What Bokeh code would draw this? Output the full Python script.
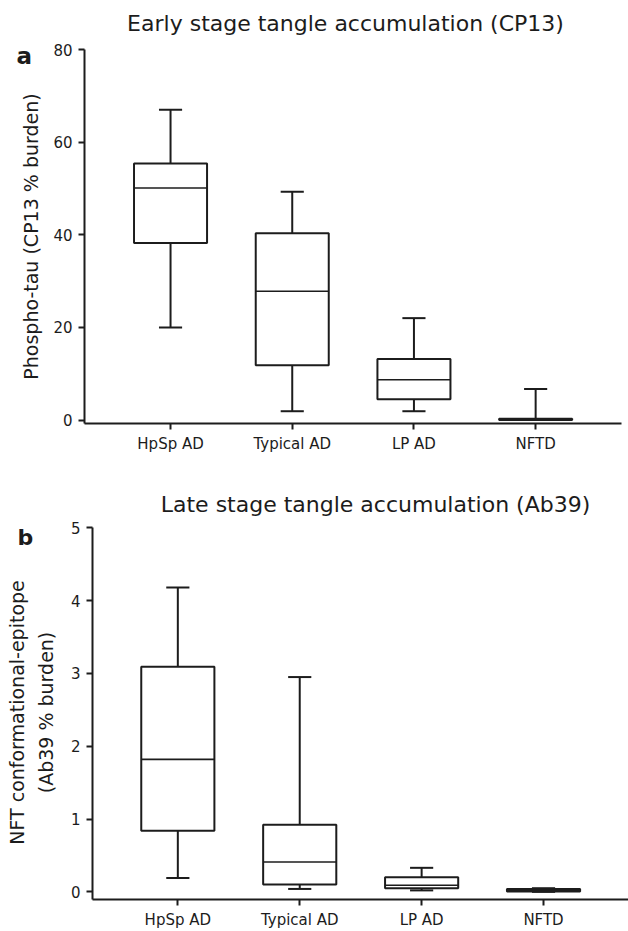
import math
from bokeh.plotting import figure
from bokeh.layouts import column
from bokeh.models import FixedTicker, Label, LinearAxis, Range1d
from bokeh.embed import file_html
from bokeh.resources import INLINE

# ---------------- data ----------------
categories = ["HpSp AD", "Typical AD", "LP AD", "NFTD"]
positions = [1, 2, 3, 4]

cp13_low = [20.0, 1.9, 1.9, 0.0]
cp13_q1 = [38.2, 11.8, 4.5, 0.0]
cp13_median = [50.1, 27.8, 8.7, 0.1]
cp13_q3 = [55.4, 40.3, 13.2, 0.3]
cp13_high = [67.0, 49.3, 22.0, 6.7]
cp13_ticks = [0, 20, 40, 60, 80]

ab39_low = [0.19, 0.04, 0.02, 0.0]
ab39_q1 = [0.84, 0.10, 0.05, 0.005]
ab39_median = [1.82, 0.41, 0.09, 0.02]
ab39_q3 = [3.09, 0.92, 0.20, 0.04]
ab39_high = [4.18, 2.95, 0.33, 0.05]
ab39_ticks = [0, 1, 2, 3, 4, 5]

title_a = "Early stage tangle accumulation (CP13)"
title_b = "Late stage tangle accumulation (Ab39)"
ylabel_a = "Phospho-tau (CP13 % burden)"
ylabel_b1 = "NFT conformational-epitope"
ylabel_b2 = "(Ab39 % burden)"

INK = "#1c1c1c"
FONT = "DejaVu Sans"
BOX_W = 0.6
CAP_W = 0.19
PAGE_LEFT, PAGE_RIGHT = 0, 628


class Panel:
    """Maps picture pixels of the plotting area to data coordinates."""

    def __init__(self, fig_top, fig_bottom, frame, xr, yr):
        self.fig_top, self.fig_bottom = fig_top, fig_bottom
        self.fl, self.fr, self.ft, self.fb = frame
        self.xr, self.yr = xr, yr

    def x(self, px):
        return self.xr[0] + (px - self.fl) / (self.fr - self.fl) * (self.xr[1] - self.xr[0])

    def y(self, py):
        return self.yr[1] - (py - self.ft) / (self.fb - self.ft) * (self.yr[1] - self.yr[0])


def make_panel(pn, low, q1, med, q3, high, ticks):
    width = PAGE_RIGHT - PAGE_LEFT
    height = pn.fig_bottom - pn.fig_top
    p = figure(width=width, height=height,
               x_range=Range1d(pn.x(PAGE_LEFT), pn.x(PAGE_RIGHT)),
               y_range=Range1d(pn.y(pn.fig_bottom), pn.y(pn.fig_top)),
               x_axis_location=None, y_axis_location=None, title=None,
               output_backend="svg", toolbar_location=None,
               min_border=0, min_border_left=0, min_border_right=0,
               min_border_top=0, min_border_bottom=0)
    p.outline_line_color = None
    p.grid.visible = False
    p.background_fill_color = "white"
    p.border_fill_color = "white"

    left = [x - BOX_W / 2 for x in positions]
    right = [x + BOX_W / 2 for x in positions]
    cl = [x - CAP_W / 2 for x in positions]
    cr = [x + CAP_W / 2 for x in positions]

    p.segment(x0=positions, y0=q3, x1=positions, y1=high, line_color=INK, line_width=2)
    p.segment(x0=positions, y0=q1, x1=positions, y1=low, line_color=INK, line_width=2)
    p.segment(x0=cl, y0=high, x1=cr, y1=high, line_color=INK, line_width=2)
    p.segment(x0=cl, y0=low, x1=cr, y1=low, line_color=INK, line_width=2)
    p.quad(left=left, right=right, bottom=q1, top=q3, fill_color="white",
           line_color=INK, line_width=2)
    p.segment(x0=left, y0=med, x1=right, y1=med, line_color=INK, line_width=1.6)

    xaxis = LinearAxis(fixed_location=pn.yr[0], bounds=pn.xr,
                       ticker=FixedTicker(ticks=positions),
                       major_label_overrides={pos: c for pos, c in zip(positions, categories)})
    yaxis = LinearAxis(fixed_location=pn.xr[0], bounds=pn.yr,
                       ticker=FixedTicker(ticks=ticks))
    for ax in (xaxis, yaxis):
        ax.axis_line_width = 2
        ax.axis_line_color = INK
        ax.major_tick_line_width = 2
        ax.major_tick_line_color = INK
        ax.major_tick_in = 0
        ax.major_tick_out = 6
        ax.minor_tick_line_color = None
        ax.major_label_text_font = FONT
        ax.major_label_text_color = INK
        ax.major_label_text_font_size = "15px"
    xaxis.major_label_standoff = 5
    yaxis.major_label_standoff = 6
    p.add_layout(xaxis, "below")
    p.add_layout(yaxis, "left")
    return p


def add_text(p, pn, px, py, text, size, align="center", baseline="middle",
             angle=0.0, bold=False):
    p.add_layout(Label(x=pn.x(px), y=pn.y(py), text=text, text_font=FONT,
                       text_font_size=size, text_align=align, text_baseline=baseline,
                       angle=angle, text_color=INK,
                       text_font_style="bold" if bold else "normal"))


# ---------------- panel a ----------------
pan_a = Panel(0, 455, (84, 621, 49, 423), (0.293, 0.293 + (621 - 84) / 121.7), (-0.75, 80))
pa = make_panel(pan_a, cp13_low, cp13_q1, cp13_median, cp13_q3, cp13_high, cp13_ticks)
add_text(pa, pan_a, 345, 22.5, title_a, "22px")
add_text(pa, pan_a, 16, 55, "a", "23px", align="left", baseline="alphabetic", bold=True)
add_text(pa, pan_a, 30, 236, ylabel_a, "19px", angle=math.pi / 2)

# ---------------- panel b ----------------
pan_b = Panel(455, 931, (92, 628, 527.3, 899), (0.3, 0.3 + (628 - 92) / 121.9), (-0.105, 5))
pb = make_panel(pan_b, ab39_low, ab39_q1, ab39_median, ab39_q3, ab39_high, ab39_ticks)
add_text(pb, pan_b, 375, 503.5, title_b, "22px")
add_text(pb, pan_b, 17, 537, "b", "22px", align="left", baseline="alphabetic", bold=True)
add_text(pb, pan_b, 16, 712, ylabel_b1, "19px", angle=math.pi / 2)
add_text(pb, pan_b, 45, 712, ylabel_b2, "19px", angle=math.pi / 2)

layout = column(pa, pb, spacing=0)
open("out.html", "w").write(file_html(layout, INLINE))
